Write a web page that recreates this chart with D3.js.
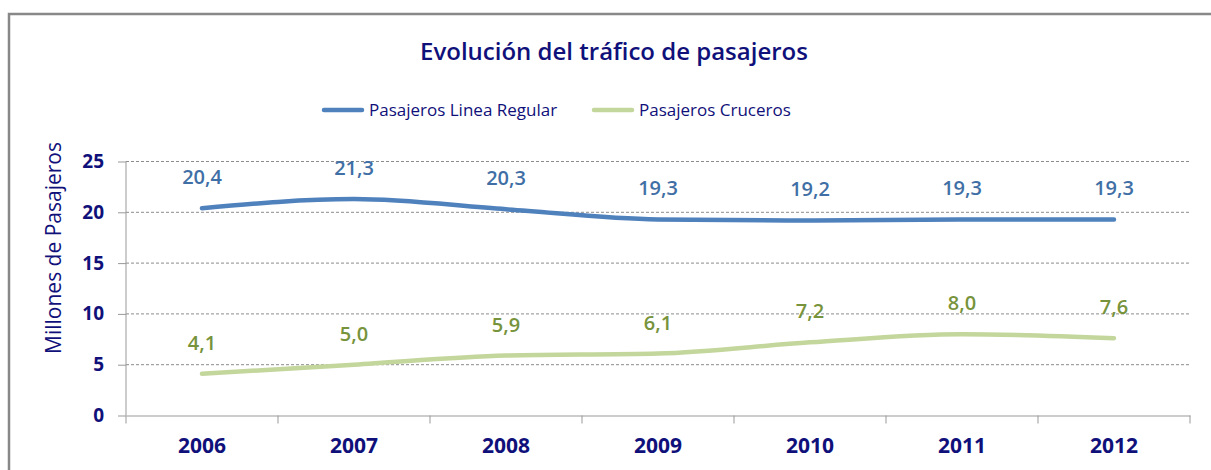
<!DOCTYPE html>
<html>
<head>
<meta charset="utf-8">
<script src="https://cdn.jsdelivr.net/npm/d3@7"></script>
<style>
  body { margin: 0; background: #fff; }
  text { font-family: "Open Sans", Lato, sans-serif; }
</style>
</head>
<body>
<script>
// datos del grafico
var anios = ["2006", "2007", "2008", "2009", "2010", "2011", "2012"];
var lineaRegular = [20.4, 21.3, 20.3, 19.3, 19.2, 19.3, 19.3];
var cruceros = [4.1, 5.0, 5.9, 6.1, 7.2, 8.0, 7.6];
var ticksY = [0, 5, 10, 15, 20, 25];
var nombres = ["Pasajeros Linea Regular", "Pasajeros Cruceros"];

var navy = "#10107a";
var svg = d3.select("body").append("svg").attr("width", 1211).attr("height", 470);

// marco exterior
svg.append("path").attr("d", "M9,470V14H1211").attr("fill", "none")
  .attr("stroke", "#888").attr("stroke-width", 2.5);

var x = d3.scaleBand().domain(anios).range([126, 1190]);
var y = d3.scaleLinear().domain([0, 25]).range([415.5, 161.5]);

// lineas de la rejilla
svg.append("g").selectAll("line").data(ticksY.filter(function (d) { return d > 0; }))
  .enter().append("line")
  .attr("x1", 126).attr("x2", 1190)
  .attr("y1", function (d) { return y(d); }).attr("y2", function (d) { return y(d); })
  .attr("stroke", "#8c8c8c").attr("stroke-dasharray", "3,2").attr("stroke-width", 1);

// eje Y
var ejeY = svg.append("g").attr("transform", "translate(126,0)")
  .call(d3.axisLeft(y).tickValues(ticksY).tickSize(8).tickPadding(14));
ejeY.select(".domain").attr("stroke", "#999").attr("d", "M0," + y(0) + "V" + y(25));
ejeY.selectAll(".tick line").attr("stroke", "#999");
ejeY.selectAll(".tick text").attr("fill", navy).attr("font-size", 19).attr("font-weight", "bold");

// eje X
var ejeX = svg.append("g").attr("transform", "translate(0," + y(0) + ")")
  .call(d3.axisBottom(x).tickSize(0).tickPadding(23));
ejeX.select(".domain").attr("stroke", "#999");
ejeX.selectAll(".tick text").attr("fill", navy).attr("font-size", 21).attr("font-weight", "bold");
ejeX.selectAll(".sep").data(d3.range(anios.length + 1)).enter().append("line")
  .attr("x1", function (i) { return 126 + i * x.step(); })
  .attr("x2", function (i) { return 126 + i * x.step(); })
  .attr("y1", 0).attr("y2", 8).attr("stroke", "#999");

// titulo eje Y
svg.append("text").attr("transform", "translate(61,248) rotate(-90)")
  .attr("text-anchor", "middle").attr("fill", navy).attr("font-size", 21)
  .text("Millones de Pasajeros");

// titulo
svg.append("text").attr("x", 614).attr("y", 60).attr("text-anchor", "middle")
  .attr("fill", navy).attr("font-size", 24).attr("font-weight", 600)
  .text("Evolución del tráfico de pasajeros");

var series = [
  { nombre: nombres[0], valores: lineaRegular, color: "#4f81bd", etiqueta: "#3f6fa5" },
  { nombre: nombres[1], valores: cruceros, color: "#c3d69b", etiqueta: "#77933c" }
];

var linea = d3.line()
  .x(function (d, i) { return x(anios[i]) + x.bandwidth() / 2; })
  .y(function (d) { return y(d); })
  .curve(d3.curveMonotoneX);

series.forEach(function (s) {
  svg.append("path").datum(s.valores).attr("d", linea)
    .attr("fill", "none").attr("stroke", s.color).attr("stroke-width", 4.5)
    .attr("stroke-linecap", "round");

  svg.append("g").selectAll("text").data(s.valores).enter().append("text")
    .attr("x", function (d, i) { return x(anios[i]) + x.bandwidth() / 2; })
    .attr("y", function (d) { return y(d) - 24; })
    .attr("text-anchor", "middle").attr("fill", s.etiqueta)
    .attr("font-size", 20).attr("font-weight", 600)
    .text(function (d) { return d.toFixed(1).replace(".", ","); });
});

// leyenda
var posLeyenda = [322, 592];
series.forEach(function (s, i) {
  var g = svg.append("g").attr("transform", "translate(" + posLeyenda[i] + ",110)");
  g.append("line").attr("x1", 2).attr("x2", 40).attr("y1", 0).attr("y2", 0)
    .attr("stroke", s.color).attr("stroke-width", 4.5).attr("stroke-linecap", "round");
  g.append("text").attr("x", 47).attr("y", 6).attr("fill", navy)
    .attr("font-size", 17).text(s.nombre);
});
</script>
</body>
</html>
